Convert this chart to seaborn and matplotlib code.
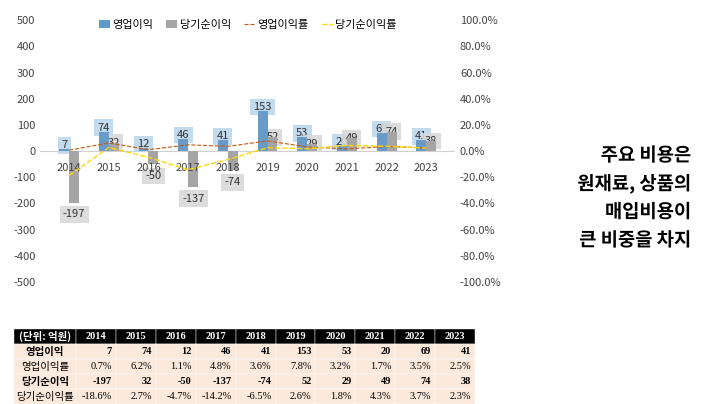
import matplotlib
matplotlib.use("Agg")
import matplotlib.pyplot as plt
import matplotlib.patheffects as pe
from matplotlib import font_manager
import seaborn as sns
import pandas as pd
import numpy as np

names = {f.name for f in font_manager.fontManager.ttflist}
kr = [n for n in ["Noto Sans CJK KR", "Noto Sans CJK JP", "Noto Sans CJK SC"] if n in names]
plt.rcParams["font.family"] = kr + ["DejaVu Sans"]
plt.rcParams["axes.unicode_minus"] = False

years = ["2014", "2015", "2016", "2017", "2018", "2019", "2020", "2021", "2022", "2023"]
op_income = [7, 74, 12, 46, 41, 153, 53, 20, 69, 41]
net_income = [-197, 32, -50, -137, -74, 52, 29, 49, 74, 38]
op_margin = [0.7, 6.2, 1.1, 4.8, 3.6, 7.8, 3.2, 1.7, 3.5, 2.5]
net_margin = [-18.6, 2.7, -4.7, -14.2, -6.5, 2.6, 1.8, 4.3, 3.7, 2.3]

df = pd.DataFrame({"year": years * 2,
                   "value": op_income + net_income,
                   "series": ["영업이익"] * 10 + ["당기순이익"] * 10})

fig = plt.figure(figsize=(7.2, 4.04), dpi=100)
ax = fig.add_axes([0.056, 0.302, 0.576, 0.648])
sns.barplot(data=df, x="year", y="value", hue="series", ax=ax,
            palette=["#5B9BD5", "#A5A5A5"], width=0.5, legend=False, zorder=1)
ax.set_ylim(-500, 500)
ax.set_yticks(range(-500, 501, 100))
ax.set_xlabel("")
ax.set_ylabel("")
ax.tick_params(length=0, labelsize=8, colors="#444444")
ax.tick_params(axis="x", pad=-86)
for s in ax.spines.values():
    s.set_visible(False)
ax.axhline(0, color="#D0D0D0", lw=0.8, zorder=0)

for k, (cont, fc) in enumerate(zip(ax.containers, ["#BDD7EE", "#D9D9D9"])):
    for bar, v in zip(cont, cont.datavalues):
        x = bar.get_x() + bar.get_width() / 2
        y = v + 15 if v >= 0 else v - 45
        if k == 1 and v >= 0:
            y = v
        ax.text(x, y, f"{int(v)}", ha="center", va="center", fontsize=8, color="#333333",
                zorder=0.5, bbox=dict(boxstyle="square,pad=0.3", fc=fc, ec="none", alpha=0.9))

ax2 = ax.twinx()
xs = np.arange(len(years))
ax2.plot(xs, op_margin, ls="--", color="#C55A11", lw=0.8)
ax2.plot(xs, net_margin, ls="--", color="#FFD700", lw=1.0)
ax2.set_ylim(-100, 100)
ax2.set_yticks(range(-100, 101, 20))
ax2.set_yticklabels([f"{t:.1f}%" for t in range(-100, 101, 20)])
ax2.tick_params(length=0, labelsize=8, colors="#444444")
for s in ax2.spines.values():
    s.set_visible(False)

handles = [plt.Rectangle((0, 0), 1, 1, fc="#5B9BD5"), plt.Rectangle((0, 0), 1, 1, fc="#A5A5A5"),
           plt.Line2D([], [], ls="--", color="#C55A11", lw=0.8),
           plt.Line2D([], [], ls="--", color="#FFD700", lw=1)]
ax.legend(handles, ["영업이익", "당기순이익", "영업이익률", "당기순이익률"], ncol=4, frameon=False,
          loc="upper center", bbox_to_anchor=(0.5, 1.04), fontsize=8, handlelength=1,
          handletextpad=0.2, columnspacing=1.2)

# right side caption
for i, line in enumerate(["주요 비용은", "원재료, 상품의", "매입비용이", "큰 비중을 차지"]):
    fig.text(0.96, 0.615 - i * 0.07, line, ha="right", va="center", fontsize=13.5,
             fontweight="bold", color="black",
             path_effects=[pe.withStroke(linewidth=3, foreground="white")])

# table
tax = fig.add_axes([0.02, 0.0, 0.64, 0.185])
tax.axis("off")
rows = ["영업이익", "영업이익률", "당기순이익", "당기순이익률"]
cells = [[str(v) for v in op_income], [f"{v:.1f}%" for v in op_margin],
         [str(v) for v in net_income], [f"{v:.1f}%" for v in net_margin]]
tbl = tax.table(cellText=[[r] + c for r, c in zip(rows, cells)],
                colLabels=["(단위: 억원)"] + years, loc="center", bbox=[0, 0, 1, 1],
                cellLoc="right")
tbl.auto_set_font_size(False)
for (r, c), cell in tbl.get_celld().items():
    cell.set_edgecolor("white")
    cell.set_linewidth(0.3)
    cell.set_text_props(fontsize=7.5)
    if c > 0:
        cell.get_text().set_fontfamily("Liberation Serif")
    if r == 0:
        cell.set_facecolor("black")
        cell.get_text().set_color("white")
        cell.get_text().set_fontweight("bold")
        cell.get_text().set_ha("center")
    else:
        cell.set_facecolor("#FBE9DC")
        if r in (1, 3):
            cell.get_text().set_fontweight("bold")
        if c == 0:
            cell.get_text().set_ha("center")
for r in range(5):
    tbl[r, 0].set_width(0.14)

fig.savefig("out.png", dpi=100)
